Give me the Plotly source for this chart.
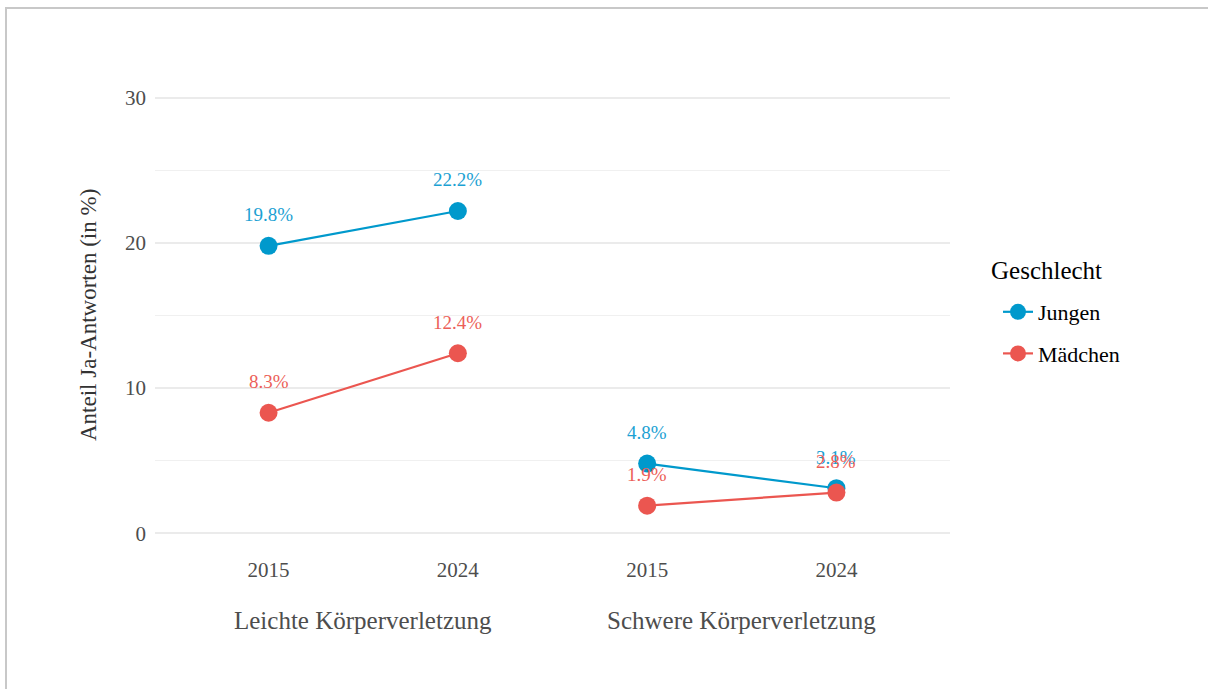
import plotly.graph_objects as go

groups = ["Leichte Körperverletzung", "Schwere Körperverletzung"]
years = ["2015", "2024"]
series = ["Jungen", "Mädchen"]
jungen = [19.8, 22.2, 4.8, 3.1]
maedchen = [8.3, 12.4, 1.9, 2.8]
legend_title = "Geschlecht"
colors = {"Jungen": "#0099CC", "Mädchen": "#EB5650"}
label_colors = {"Jungen": "#1BA1D3", "Mädchen": "#EC5F59"}

W, H = 1208, 689
L, R, T, B = 155, 258, 76, 134
FONT = "Liberation Serif"
pw = W - L - R
ph = H - T - B


def px(sx):
    return (sx - L) / pw


def py(sy):
    return (H - B - sy) / ph


fig = go.Figure()
data = {"Jungen": jungen, "Mädchen": maedchen}
positions = list(range(len(groups) * len(years)))
ticktext = [y for g in groups for y in years]

for s in series:
    vals = data[s]
    for gi in range(len(groups)):
        xs = positions[gi * 2: gi * 2 + 2]
        ys = vals[gi * 2: gi * 2 + 2]
        fig.add_trace(go.Scatter(
            x=xs, y=ys, mode="lines+markers", name=s,
            legendgroup=s, showlegend=(gi == 0),
            line=dict(color=colors[s], width=2.2),
            marker=dict(color=colors[s], size=18),
            hoverinfo="skip",
        ))

# value labels
for s in series:
    for x, v in zip(positions, data[s]):
        fig.add_annotation(x=x, y=v, xref="x", yref="y", text=f"{v:.1f}%",
                           showarrow=False, yshift=31,
                           font=dict(family=FONT, size=19, color=label_colors[s]))

# group labels
for gi, g in enumerate(groups):
    fig.add_annotation(x=gi * 2 + 0.5, xref="x", y=py(620), yref="paper",
                       text=g, showarrow=False, yanchor="middle",
                       font=dict(family=FONT, size=25, color="#4d4d4d"))

# y axis title
fig.add_annotation(x=px(88), y=py(315), xref="paper", yref="paper",
                   text="Anteil Ja-Antworten (in %)", textangle=-90, showarrow=False,
                   xanchor="center", yanchor="middle",
                   font=dict(family=FONT, size=23, color="#333333"))

# legend title
fig.add_annotation(x=px(989), y=py(270), xref="paper", yref="paper",
                   text=legend_title, showarrow=False, xanchor="left", yanchor="middle",
                   font=dict(family=FONT, size=25, color="#000000"))

# outer border
fig.add_shape(type="rect", xref="paper", yref="paper",
              x0=px(6), x1=px(W + 20), y0=py(H + 20), y1=py(8),
              line=dict(color="#c8c8c8", width=2), layer="below")

fig.update_layout(
    width=W, height=H,
    margin=dict(l=L, r=R, t=T, b=B),
    paper_bgcolor="white", plot_bgcolor="white",
    font=dict(family=FONT, color="#4d4d4d"),
    xaxis=dict(range=[-0.6, 3.6], tickvals=positions, ticktext=ticktext,
               showgrid=False, zeroline=False, showline=False, ticks="",
               tickfont=dict(family=FONT, size=21, color="#4d4d4d")),
    yaxis=dict(range=[-1.5, 31.5], tickvals=[0, 10, 20, 30],
               showgrid=True, gridcolor="#ebebeb", gridwidth=2,
               zeroline=False, showline=False, ticks="",
               ticklabelstandoff=8,
               tickfont=dict(family=FONT, size=21, color="#4d4d4d")),
    legend=dict(x=px(998), xanchor="left", y=py(291), yanchor="top",
                font=dict(family=FONT, size=22, color="#000000"),
                itemsizing="trace", tracegroupgap=10, bgcolor="rgba(0,0,0,0)"),
    showlegend=True,
)
fig.update_yaxes(minor=dict(tickvals=[5, 15, 25], showgrid=True,
                            gridcolor="#f0f0f0", gridwidth=1))

fig.write_html("out.html", config={"displayModeBar": False},
               post_script="document.body.style.margin='0';")
